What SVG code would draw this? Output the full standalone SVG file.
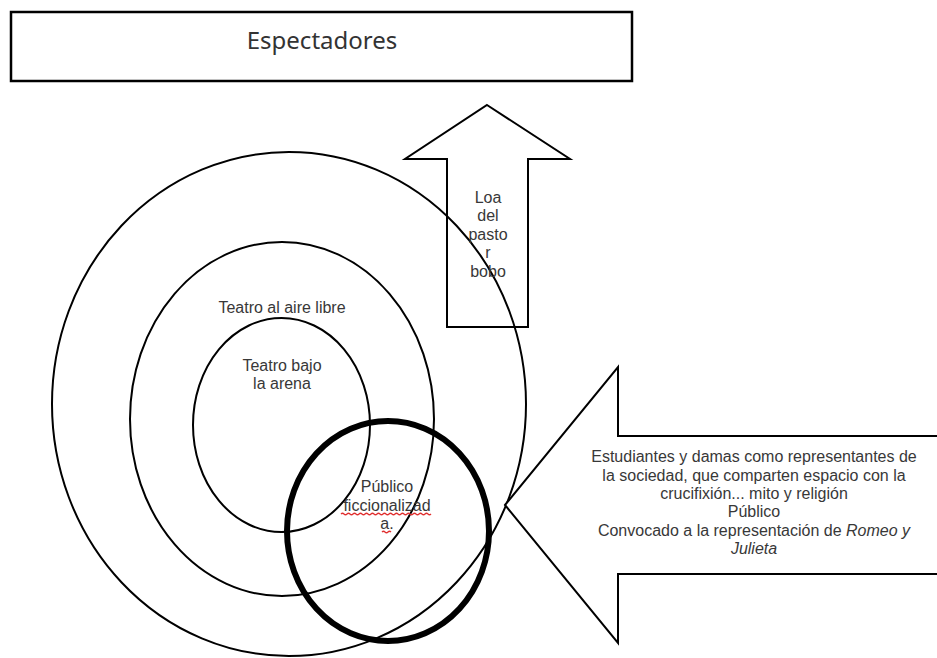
<svg xmlns="http://www.w3.org/2000/svg" width="937" height="658" viewBox="0 0 937 658">
<style>
.shape{fill:none;stroke:#000;stroke-width:2}
.arrow{fill:#fff;stroke:#000;stroke-width:2;stroke-linejoin:miter}
.thick{fill:none;stroke:#000;stroke-width:6}
.t{font-family:"Liberation Sans",Arial,sans-serif;font-size:16px;fill:#383838;text-anchor:middle}
.title{font-family:"Noto Sans","Open Sans",sans-serif;font-size:24px;fill:#333;text-anchor:middle}
.squig{fill:none;stroke:#e03030;stroke-width:1.3}
</style>
<rect width="937" height="658" fill="#fff"/>
<g id="espectadores">
<rect x="11" y="12" width="621" height="69" fill="#fff" stroke="#000" stroke-width="2.5"/>
<text class="title" x="322" y="49">Espectadores</text>
</g>
<g id="outer">
<ellipse class="shape" cx="289" cy="404" rx="237" ry="252"/>
</g>
<g id="loa">
<polygon class="arrow" points="487,105 570,159 528,159 528,327 447,327 447,159 405,159" fill-opacity="0"/>
<text class="t"><tspan x="488" y="203">Loa</tspan><tspan x="488" y="221">del</tspan><tspan x="488" y="240">pasto</tspan><tspan x="488" y="258">r</tspan><tspan x="488" y="277">bobo</tspan></text>
</g>
<g id="aire-libre">
<ellipse class="shape" cx="282" cy="419" rx="152" ry="177"/>
<text class="t" x="282" y="313">Teatro al aire libre</text>
</g>
<g id="bajo-arena">
<ellipse class="shape" cx="281.5" cy="425" rx="88.5" ry="107"/>
<text class="t"><tspan x="282" y="371">Teatro bajo</tspan><tspan x="282" y="389">la arena</tspan></text>
</g>
<g id="publico-ficcionalizado">
<ellipse class="thick" cx="388" cy="531" rx="101" ry="110"/>
<text class="t"><tspan x="387" y="492">Público</tspan><tspan x="387" y="511">ficcionalizad</tspan><tspan x="387" y="529">a.</tspan></text>
<path class="squig" d="M341,514 q1.5,-1.5 3,0 t3,0 t3,0 t3,0 t3,0 t3,0 t3,0 t3,0 t3,0 t3,0 t3,0 t3,0 t3,0 t3,0 t3,0 t3,0 t3,0 t3,0 t3,0 t3,0 t3,0 t3,0 t3,0 t3,0 t3,0 t3,0 t3,0 t3,0 t3,0 t3,0"/>
<path class="squig" d="M382,532 q1.5,-1.5 3,0 t3,0 t3,0"/>
</g>
<g id="estudiantes">
<polygon class="arrow" points="505,505 618,367 618,436 940,436 940,574 618,574 618,643"/>
<text class="t"><tspan x="754" y="462">Estudiantes y damas como representantes de</tspan><tspan x="754" y="481">la sociedad, que comparten espacio con la</tspan><tspan x="754" y="499">crucifixión... mito y religión</tspan><tspan x="754" y="517">Público</tspan><tspan x="754" y="536">Convocado a la representación de <tspan font-style="italic">Romeo y</tspan></tspan><tspan x="754" y="554" font-style="italic">Julieta</tspan></text>
</g>
<g id="connectors"></g>
</svg>
